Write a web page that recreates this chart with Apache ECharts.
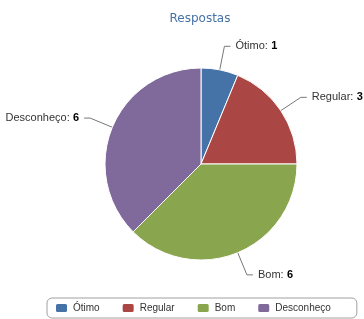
<!DOCTYPE html>
<html>
<head>
<meta charset="utf-8">
<script src="https://cdn.jsdelivr.net/npm/echarts@6/dist/echarts.min.js"></script>
<style>
  html, body { margin: 0; padding: 0; background: #fff; }
  #chart { width: 364px; height: 319px; }
</style>
</head>
<body>
<div id="chart"></div>
<script>
// dados
const categories = ['Ótimo', 'Regular', 'Bom', 'Desconheço']
const values = [1, 3, 6, 6]
const colors = ['#4572A7', '#AA4643', '#89A54E', '#80699B']

const chart = echarts.init(document.getElementById('chart'))
const font = 'Liberation Sans'

const option = {
  animation: false,
  title: {
    text: 'Respostas',
    left: 195,
    textAlign: 'center',
    top: 8,
    textStyle: { color: '#4572A7', fontSize: 12, fontWeight: 'normal', fontFamily: 'DejaVu Sans' }
  },
  legend: {
    data: categories,
    left: 47,
    top: 298,
    width: 330,
    orient: 'horizontal',
    icon: 'roundRect',
    itemWidth: 13,
    itemHeight: 10,
    itemGap: 21,
    padding: [4, 26, 4, 7],
    borderColor: '#a0a0a0',
    borderWidth: 1,
    borderRadius: 5,
    textStyle: { fontSize: 10, color: '#333', fontFamily: font }
  },
  series: [{
    type: 'pie',
    center: [201, 164],
    radius: 96,
    startAngle: 90,
    clockwise: true,
    color: colors,
    itemStyle: { borderColor: '#fff', borderWidth: 1 },
    label: {
      show: true,
      overflow: 'none',
      formatter: function(p) { return '{n|' + p.name + ':} {v|' + p.value + '}' },
      rich: {
        n: { fontSize: 11, color: '#333', fontFamily: font },
        v: { fontSize: 11, color: '#000', fontWeight: 'bold', fontFamily: font }
      }
    },
    labelLine: {
      show: true,
      length: 24,
      length2: 6,
      lineStyle: { color: '#777', width: 1 }
    },
    data: categories.map((c, i) => ({ name: c, value: values[i] }))
  }]
}
chart.setOption(option)
</script>
</body>
</html>
